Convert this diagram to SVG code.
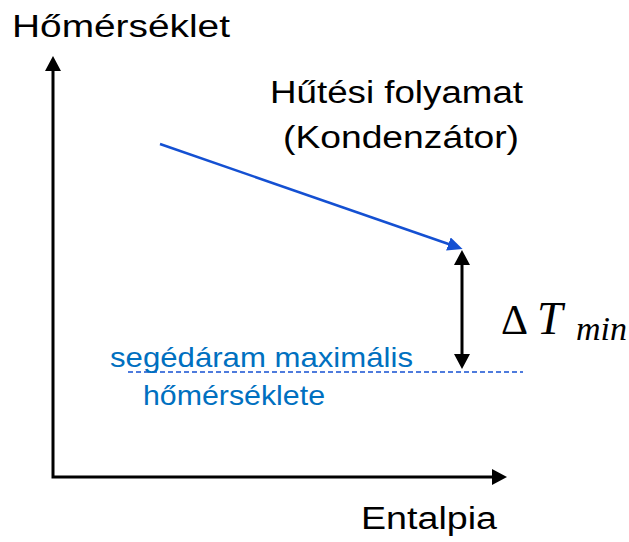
<svg xmlns="http://www.w3.org/2000/svg" width="629" height="542" viewBox="0 0 629 542">
<style>
.lbl{font-family:"Liberation Sans",Arial,sans-serif;fill:#000;}
.blue{font-family:"Liberation Sans",Arial,sans-serif;fill:#0070C0;}
.math{font-family:"Liberation Serif","DejaVu Serif",serif;fill:#000;}
.ax{stroke:#000;stroke-width:3;fill:none;}
</style>
<defs>
<marker id="ah" markerUnits="userSpaceOnUse" markerWidth="17" markerHeight="17" refX="7" refY="8" orient="auto-start-reverse">
<path d="M0,0 L15,8 L0,16 z" fill="#000"/>
</marker>
<marker id="ahb" markerUnits="userSpaceOnUse" markerWidth="16" markerHeight="16" refX="7" refY="7" orient="auto">
<path d="M0,0 L15,7 L0,14 z" fill="#1450D2"/>
</marker>
</defs>
<g id="connectors">
<path class="ax" d="M53,64 L53,477 L499,477" marker-start="url(#ah)" marker-end="url(#ah)"/>
<line x1="160" y1="144" x2="455" y2="246.3" stroke="#1450D2" stroke-width="2.5" marker-end="url(#ahb)"/>
<line class="ax" x1="462" y1="258" x2="462" y2="361" marker-start="url(#ah)" marker-end="url(#ah)"/>
<line x1="128" y1="372" x2="523" y2="372" stroke="#1450D2" stroke-width="1.5" stroke-dasharray="5,3"/>
</g>
<g id="y-axis-label"><text class="lbl" x="12" y="37" font-size="31" textLength="218" lengthAdjust="spacingAndGlyphs">Hőmérséklet</text></g>
<g id="x-axis-label"><text class="lbl" x="361" y="529" font-size="31" textLength="136" lengthAdjust="spacingAndGlyphs">Entalpia</text></g>
<g id="cooling-label">
<text class="lbl" x="270" y="103" font-size="31" textLength="253" lengthAdjust="spacingAndGlyphs">Hűtési folyamat</text>
<text class="lbl" x="283" y="148" font-size="31" textLength="236" lengthAdjust="spacingAndGlyphs">(Kondenzátor)</text>
</g>
<g id="dtmin-label">
<text class="math" x="501" y="334" font-size="42">Δ<tspan x="537" font-style="italic" font-size="46">T</tspan><tspan x="576" y="340" font-style="italic" font-size="34">min</tspan></text>
</g>
<g id="aux-label">
<text class="blue" x="110" y="367" font-size="28" textLength="303" lengthAdjust="spacingAndGlyphs">segédáram maximális</text>
<text class="blue" x="143" y="405" font-size="28" textLength="182" lengthAdjust="spacingAndGlyphs">hőmérséklete</text>
</g>
</svg>
